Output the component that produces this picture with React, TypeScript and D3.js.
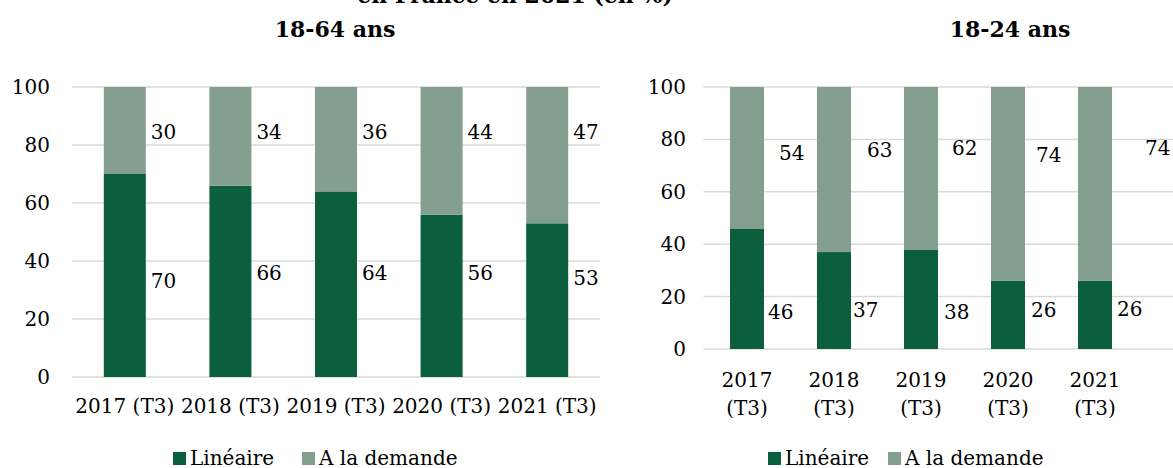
import React from "react";
import * as d3 from "d3";

const categoriesLeft = ["2017 (T3)", "2018 (T3)", "2019 (T3)", "2020 (T3)", "2021 (T3)"];
const lineaireLeft = [70, 66, 64, 56, 53];
const demandeLeft = [30, 34, 36, 44, 47];

const categoriesRight = [["2017", "(T3)"], ["2018", "(T3)"], ["2019", "(T3)"], ["2020", "(T3)"], ["2021", "(T3)"]];
const lineaireRight = [46, 37, 38, 26, 26];
const demandeRight = [54, 63, 62, 74, 74];

const yTicks = [0, 20, 40, 60, 80, 100];
const seriesNames = ["Linéaire", "A la demande"];
const mainTitle = "en France en 2021 (en %)";
const titleLeft = "18-64 ans";
const titleRight = "18-24 ans";

// label anchor positions (value units) and horizontal nudges, as placed in the original
const lblTopLeft = [84.5, 84.5, 84.5, 84.5, 84.5];
const lblBotLeft = [33, 36, 36, 36, 34];
const lblTopRight = [74.7, 75.8, 76.6, 73.9, 76.6];
const lblBotRight = [14.1, 14.9, 14.1, 14.9, 15.2];
const dxTopLeft = [5, 5, 5, 5, 5];
const dxBotLeft = [5, 5, 5, 5, 5];
const dxTopRight = [15, 16, 14, 11, 33];
const dxBotRight = [4, 2, 6, 6, 5];

const DARK = "#0b5f3c";
const LIGHT = "#849f8e";
const GRID = "#d9d9d9";
const FONT = "'DejaVu Serif', serif";
const FS = 20;

type PanelProps = {
  x0: number; x1: number; gridEnd: number; yTop: number; yBot: number; barW: number;
  lin: number[]; dem: number[]; cats: (string | string[])[];
  lt: number[]; lb: number[]; dxt: number[]; dxb: number[];
  tickRight: number; catY: number; title: string; titleX: number;
  legX: number; legGap: number;
};

function Panel(p: PanelProps) {
  const x = d3.scaleBand<number>().domain(d3.range(p.cats.length)).range([p.x0, p.x1]);
  const y = d3.scaleLinear().domain([0, 100]).range([p.yBot, p.yTop]);
  return (
    <g>
      <text x={p.titleX} y={37} textAnchor="middle" fontWeight="bold" fontSize={22} fontFamily={FONT}>{p.title}</text>
      {yTicks.map((t) => (
        <g key={t}>
          <line x1={p.x0} x2={p.gridEnd} y1={y(t)} y2={y(t)} stroke={GRID} strokeWidth={1.5} />
          <text x={p.tickRight} y={y(t)} dy="0.35em" textAnchor="end" fontSize={FS} fontFamily={FONT}>{t}</text>
        </g>
      ))}
      {p.cats.map((c, i) => {
        const cx = (x(i) as number) + x.bandwidth() / 2;
        const bx = cx - p.barW / 2;
        return (
          <g key={i}>
            <rect x={bx} width={p.barW} y={y(p.lin[i])} height={y(0) - y(p.lin[i])} fill={DARK} />
            <rect x={bx} width={p.barW} y={y(p.lin[i] + p.dem[i])} height={y(p.lin[i]) - y(p.lin[i] + p.dem[i])} fill={LIGHT} />
            <text x={bx + p.barW + p.dxt[i]} y={y(p.lt[i])} dy="0.35em" fontSize={FS} fontFamily={FONT}>{p.dem[i]}</text>
            <text x={bx + p.barW + p.dxb[i]} y={y(p.lb[i])} dy="0.35em" fontSize={FS} fontFamily={FONT}>{p.lin[i]}</text>
            {Array.isArray(c) ? (
              c.map((s, k) => (
                <text key={k} x={cx} y={p.catY + k * 28} dy="0.35em" textAnchor="middle" fontSize={FS} fontFamily={FONT}>{s}</text>
              ))
            ) : (
              <text x={cx} y={p.catY} dy="0.35em" textAnchor="middle" fontSize={FS} fontFamily={FONT}>{c}</text>
            )}
          </g>
        );
      })}
      <g>
        <rect x={p.legX} y={452} width={13} height={13} fill={DARK} />
        <text x={p.legX + 17} y={458} dy="0.35em" fontSize={FS} fontFamily={FONT}>{seriesNames[0]}</text>
        <rect x={p.legX + p.legGap} y={452} width={13} height={13} fill={LIGHT} />
        <text x={p.legX + p.legGap + 17} y={458} dy="0.35em" fontSize={FS} fontFamily={FONT}>{seriesNames[1]}</text>
      </g>
    </g>
  );
}

export default function App() {
  return (
    <svg width={1173} height={468} style={{ position: "absolute", left: 0, top: 0, background: "#fff" }}>
      <rect width={1173} height={468} fill="#fff" />
      <text x={515} y={3} textAnchor="middle" fontWeight="bold" fontSize={22} fontFamily={FONT}>{mainTitle}</text>
      <Panel x0={72} x1={600} gridEnd={600} yTop={87} yBot={377} barW={42}
        lin={lineaireLeft} dem={demandeLeft} cats={categoriesLeft}
        lt={lblTopLeft} lb={lblBotLeft} dxt={dxTopLeft} dxb={dxBotLeft}
        tickRight={50} catY={406} title={titleLeft} titleX={335} legX={173} legGap={129} />
      <Panel x0={703.5} x1={1138.5} gridEnd={1173} yTop={87} yBot={349} barW={34}
        lin={lineaireRight} dem={demandeRight} cats={categoriesRight}
        lt={lblTopRight} lb={lblBotRight} dxt={dxTopRight} dxb={dxBotRight}
        tickRight={686} catY={380} title={titleRight} titleX={1010} legX={768} legGap={120} />
    </svg>
  );
}
